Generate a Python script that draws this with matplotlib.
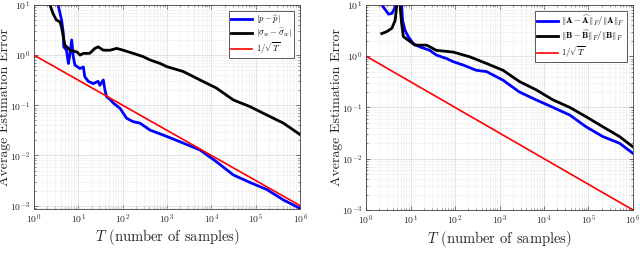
import numpy as np
import matplotlib
matplotlib.use("Agg")
import matplotlib.pyplot as plt
from matplotlib.ticker import FuncFormatter

plt.rcParams['font.family'] = 'serif'
plt.rcParams['font.serif'] = ['cmr10', 'DejaVu Serif']
plt.rcParams['mathtext.fontset'] = 'cm'
plt.rcParams['axes.formatter.use_mathtext'] = True

# left panel
T_p = [3.5, 4.2, 4.6, 4.7, 5.4, 6, 6.5, 7.1, 7.7, 8.4, 10.9, 13, 14, 16.8, 21.7, 28, 30.6, 36.6,
       40, 43, 52, 62, 87, 123, 174, 246, 414, 980, 2330, 5500, 1.3e4, 3.1e4, 7.4e4, 1.77e5, 4.2e5, 1e6]
err_p = [10, 5, 2.7, 1.46, 1.25, 0.68, 1.08, 2.0, 0.93, 0.63, 0.54, 0.58, 0.37, 0.30, 0.27, 0.30, 0.25, 0.32,
         0.2, 0.15, 0.13, 0.11, 0.087, 0.055, 0.047, 0.044, 0.032, 0.024, 0.0176, 0.0129, 0.0075, 0.0041,
         0.0029, 0.0021, 0.0013, 0.00088]
T_s = [2.3, 2.7, 3.2, 3.85, 4.2, 4.6, 5, 5.5, 6.5, 9.2, 11, 13, 18, 23.7, 28, 36.6, 52, 73, 103, 174,
       290, 414, 700, 980, 2330, 5500, 1.3e4, 3.1e4, 7.4e4, 1.77e5, 4.2e5, 1e6]
err_s = [10, 6.7, 5, 4.6, 3.6, 2.3, 1.58, 1.46, 1.25, 1.16, 1.0, 1.08, 1.08, 1.36, 1.46, 1.25, 1.25, 1.36,
         1.25, 1.08, 0.93, 0.8, 0.68, 0.59, 0.47, 0.32, 0.22, 0.128, 0.094, 0.064, 0.044, 0.026]

# right panel
T_A = [2.25, 3.2, 3.8, 4.5, 4.8, 5.0, 5.6, 6.3, 6.6, 7.5, 8.9, 11.5, 16, 27, 38, 64, 91, 153, 300, 510,
       1200, 2800, 6700, 1.6e4, 3.8e4, 8.8e4, 2.1e5, 5e5, 1e6]
err_A = [10, 6.6, 6.8, 9, 14, 20, 14, 10, 5, 3.2, 2.4, 1.76, 1.52, 1.3, 1.05, 0.9, 0.78, 0.67, 0.53, 0.5,
         0.34, 0.2, 0.14, 0.1, 0.071, 0.042, 0.027, 0.02, 0.0127]
T_B = [2.25, 2.9, 3.8, 4.5, 4.9, 5.3, 5.8, 6.3, 6.9, 8.9, 12.5, 23, 38, 91, 215, 510, 1200, 2800, 6700,
       1.6e4, 3.8e4, 8.8e4, 2.1e5, 5e5, 1e6]
err_B = [2.76, 3.0, 3.5, 5, 10, 20, 10, 4.3, 2.4, 2.05, 1.64, 1.64, 1.3, 1.2, 0.97, 0.72, 0.53, 0.32, 0.22,
         0.14, 0.1, 0.066, 0.042, 0.027, 0.017]

T_ref = [1, 1e6]
err_ref = [1, 1e-3]

fig = plt.figure(figsize=(6.4, 2.57), dpi=100)
ax1 = fig.add_axes([0.053, 0.187, 0.416, 0.794])
ax2 = fig.add_axes([0.572, 0.183, 0.417, 0.798])

def pow_fmt(v, pos):
    e = int(round(np.log10(v)))
    return r'$\mathsf{10^{%d}}$' % e

def style(ax, ylo):
    ax.set_xscale('log')
    ax.set_yscale('log')
    ax.set_xlim(1, 1e6)
    ax.set_ylim(ylo, 10)
    ax.set_xticks([1, 1e1, 1e2, 1e3, 1e4, 1e5, 1e6])
    ax.set_yticks([1e-3, 1e-2, 1e-1, 1, 10])
    ax.xaxis.set_major_formatter(FuncFormatter(pow_fmt))
    ax.yaxis.set_major_formatter(FuncFormatter(pow_fmt))
    ax.grid(True, which='major', color='#d8d8d8', lw=0.5)
    ax.grid(True, which='minor', color='#ececec', lw=0.4)
    ax.set_axisbelow(True)
    ax.tick_params(which='both', direction='in', top=True, right=True, colors='#404040',
                   labelsize=7, labelcolor='#262626')
    ax.tick_params(which='major', length=3, width=0.5, pad=2.5)
    ax.tick_params(which='minor', length=1.5, width=0.4)
    for s in ax.spines.values():
        s.set_color('#404040')
        s.set_linewidth(0.6)
    ax.set_xlabel('$T$ (number of samples)', fontsize=10.5, color='#262626', labelpad=1)
    ax.set_ylabel('Average Estimation Error', fontsize=10, color='#262626')
    ax.yaxis.set_label_coords(-0.085, 0.5)

ax1.plot(T_p, err_p, color='#0000ff', lw=2.0, label=r'$|p-\widehat{p}|$')
ax1.plot(T_s, err_s, color='black', lw=2.0, label=r'$|\sigma_w-\widehat{\sigma}_w|$')
ax1.plot(T_ref, err_ref, color='#ff0000', lw=1.2, label=r'$1/\sqrt{T}$')
style(ax1, 8.6e-4)

ax2.plot(T_A, err_A, color='#0000ff', lw=2.0,
         label=r'$\Vert\mathbf{A}-\widehat{\mathbf{A}}\Vert_F/\Vert\mathbf{A}\Vert_F$')
ax2.plot(T_B, err_B, color='black', lw=2.0,
         label=r'$\Vert\mathbf{B}-\widehat{\mathbf{B}}\Vert_F/\Vert\mathbf{B}\Vert_F$')
ax2.plot(T_ref, err_ref, color='#ff0000', lw=1.2, label=r'$1/\sqrt{T}$')
style(ax2, 1e-3)

for ax in (ax1, ax2):
    leg = ax.legend(loc='upper right', fontsize=6.3, fancybox=False, framealpha=1,
                    handlelength=2.4, borderpad=0.25, labelspacing=0.1, borderaxespad=0.7,
                    handletextpad=0.4)
    leg.get_frame().set_edgecolor('#404040')
    leg.get_frame().set_linewidth(0.6)

fig.savefig('out.png', dpi=100)
